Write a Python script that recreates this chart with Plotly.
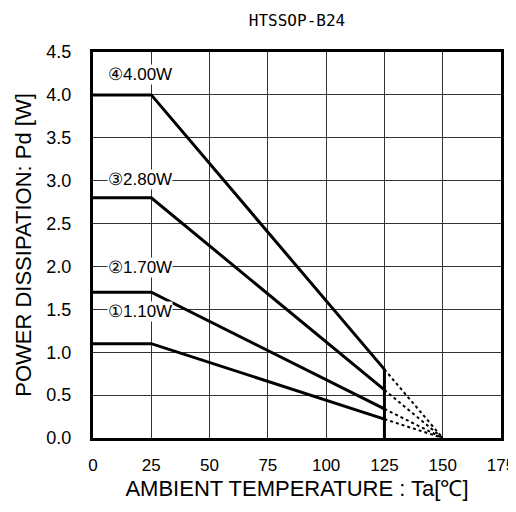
import plotly.graph_objects as go

# derating curves
temp_solid = [0, 25, 125]
temp_dot = [125, 150]
pd_max = [4.00, 2.80, 1.70, 1.10]
pd_125 = [0.80, 0.56, 0.34, 0.22]
labels = ["④4.00W", "③2.80W", "②1.70W", "①1.10W"]
label_y = [4.24, 3.01, 1.99, 1.47]

x_ticks = [0, 25, 50, 75, 100, 125, 150, 175]
y_ticks = [0, 0.5, 1.0, 1.5, 2.0, 2.5, 3.0, 3.5, 4.0, 4.5]

fig = go.Figure()

for p, p125 in zip(pd_max, pd_125):
    fig.add_trace(go.Scatter(
        x=temp_solid, y=[p, p, p125], mode="lines",
        line=dict(color="black", width=3), showlegend=False
    ))
    fig.add_trace(go.Scatter(
        x=temp_dot, y=[p125, 0], mode="lines",
        line=dict(color="black", width=2, dash="dot"), showlegend=False
    ))

# vertical cut at 125 degC
fig.add_trace(go.Scatter(
    x=[125, 125], y=[0, max(pd_125)], mode="lines",
    line=dict(color="black", width=3), showlegend=False
))

for txt, yy in zip(labels, label_y):
    fig.add_annotation(
        x=6, y=yy, text=txt, showarrow=False, xanchor="left",
        bgcolor="white", borderpad=0,
        font=dict(family="Liberation Sans, Arial", size=17, color="black")
    )

# page body has an 8px margin, so the figure is a bit smaller than the window
fig.update_layout(
    width=508, height=504,
    margin=dict(l=85, r=15, t=44, b=74),
    paper_bgcolor="white", plot_bgcolor="white",
    title=dict(text="HTSSOP-B24", x=0.5, xref="paper", xanchor="center",
               y=1 - 12 / 504, yref="container", yanchor="middle",
               font=dict(family="DejaVu Sans Mono", size=16, color="black")),
    font=dict(family="Liberation Sans, Arial", size=18, color="black"),
)
fig.update_xaxes(
    range=[0, 175], tickvals=x_ticks, ticktext=[str(v) for v in x_ticks],
    tickfont=dict(size=17),
    showgrid=True, gridcolor="#333", gridwidth=1,
    showline=True, linecolor="black", linewidth=3, mirror=True,
    zeroline=False, ticks="", ticklabelstandoff=10, automargin=False,
    title=dict(text="AMBIENT TEMPERATURE : Ta[℃]", standoff=7),
)
fig.update_yaxes(
    range=[0, 4.5], tickvals=y_ticks, ticktext=["%.1f" % v for v in y_ticks],
    showgrid=True, gridcolor="#333", gridwidth=1,
    showline=True, linecolor="black", linewidth=3, mirror=True,
    zeroline=False, ticks="", ticklabelstandoff=15, automargin=False,
    title=dict(text="POWER DISSIPATION: Pd [W]", standoff=9),
)

fig.write_html("out.html")
